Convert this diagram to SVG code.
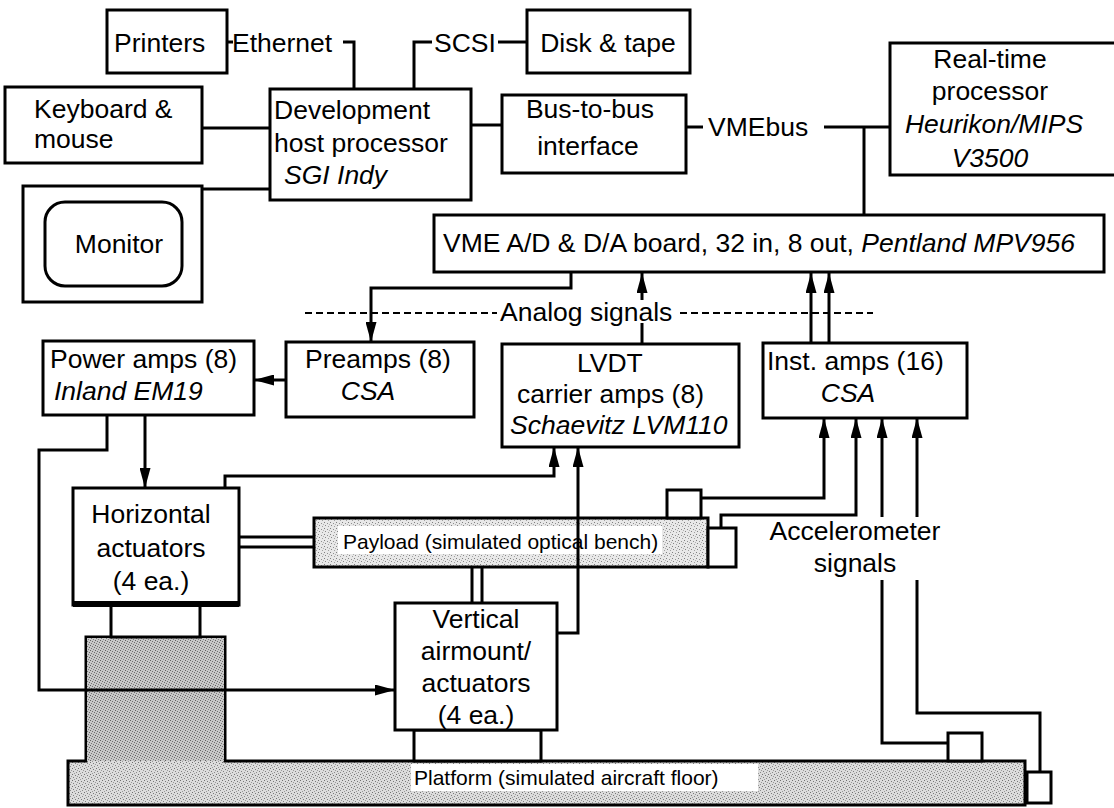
<svg xmlns="http://www.w3.org/2000/svg" width="1114" height="808" viewBox="0 0 1114 808">
<style>
.box{fill:#fff;stroke:#000;stroke-width:3}
.ln{fill:none;stroke:#000;stroke-width:3}
.ar{fill:none;stroke:#000;stroke-width:3;marker-end:url(#ah)}
.dash{fill:none;stroke:#000;stroke-width:2;stroke-dasharray:7 4}
.t{font-family:"Liberation Sans",Arial,Helvetica,sans-serif;font-size:26.5px;fill:#000}
.i{font-style:italic}
.m{text-anchor:middle}
.s{font-size:21px}
</style>
<defs>
<marker id="ah" markerUnits="userSpaceOnUse" markerWidth="20" markerHeight="11" viewBox="0 0 20 11" refX="20" refY="5.5" orient="auto">
<path d="M0,0 L20,5.5 L0,11 Z" fill="#000"/>
</marker>
<pattern id="p1" width="6" height="6" patternUnits="userSpaceOnUse">
<rect width="6" height="6" fill="#e8e8e8"/>
<rect x="0" y="0" width="1" height="1" fill="#808080"/>
<rect x="3" y="1" width="1" height="1" fill="#909090"/>
<rect x="1" y="3" width="1" height="1" fill="#858585"/>
<rect x="4" y="4" width="1" height="1" fill="#a0a0a0"/>
<rect x="5" y="2" width="1" height="1" fill="#b0b0b0"/>
</pattern>
<pattern id="p2" width="6" height="6" patternUnits="userSpaceOnUse">
<rect width="6" height="6" fill="#dcdcdc"/>
<rect x="0" y="0" width="1" height="1" fill="#707070"/>
<rect x="3" y="1" width="1" height="1" fill="#7a7a7a"/>
<rect x="1" y="3" width="1" height="1" fill="#808080"/>
<rect x="4" y="4" width="1" height="1" fill="#8a8a8a"/>
<rect x="5" y="2" width="1" height="1" fill="#999"/>
<rect x="2" y="5" width="1" height="1" fill="#999"/>
</pattern>
<pattern id="p3" width="5" height="5" patternUnits="userSpaceOnUse">
<rect width="5" height="5" fill="#c8c8c8"/>
<rect x="0" y="0" width="1" height="1" fill="#606060"/>
<rect x="2" y="1" width="1" height="1" fill="#707070"/>
<rect x="4" y="2" width="1" height="1" fill="#6a6a6a"/>
<rect x="1" y="3" width="1" height="1" fill="#777"/>
<rect x="3" y="4" width="1" height="1" fill="#808080"/>
</pattern>
</defs>
<rect width="1114" height="808" fill="#fff"/>

<g id="platform">
<path d="M68,805 V761 H86 V637 H225 V761 H1025 V805 Z" fill="url(#p2)" stroke="#000" stroke-width="3"/>
<rect x="87" y="638" width="137" height="123" fill="url(#p3)"/>
<rect x="411" y="764" width="347" height="27" fill="#fff"/>
<text class="t s" x="414" y="785">Platform (simulated aircraft floor)</text>
</g>
<g id="h-stand"><rect class="box" x="111" y="605" width="89" height="32"/></g>
<g id="v-stand"><rect class="box" x="414" y="730" width="127" height="31"/></g>
<g id="floor-accel-1"><rect class="box" x="948" y="733" width="34" height="28"/></g>
<g id="floor-accel-2"><rect class="box" x="1027" y="772" width="24" height="31"/></g>

<g id="printers"><rect class="box" x="107" y="10" width="120" height="63"/><text class="t" x="114" y="52">Printers</text></g>
<g id="disk"><rect class="box" x="527" y="10" width="163" height="63"/><text class="t m" x="608" y="52">Disk &amp; tape</text></g>
<g id="keyboard"><rect class="box" x="5" y="87" width="197" height="76"/><text class="t" x="34" y="118">Keyboard &amp;</text><text class="t" x="34" y="148">mouse</text></g>
<g id="monitor"><rect class="box" x="23" y="186" width="179" height="116"/><rect class="box" x="45" y="202" width="137" height="84" rx="20"/><text class="t m" x="119" y="253">Monitor</text></g>
<g id="host"><rect class="box" x="270" y="89" width="201" height="111"/><text class="t" x="274" y="119">Development</text><text class="t" x="274" y="152">host processor</text><text class="t i" x="284" y="184">SGI Indy</text></g>
<g id="bus"><rect class="box" x="502" y="95" width="184" height="78"/><text class="t m" x="590" y="118">Bus-to-bus</text><text class="t m" x="588" y="155">interface</text></g>
<g id="realtime"><rect class="box" x="890" y="43" width="240" height="132"/><text class="t m" x="990" y="68">Real-time</text><text class="t m" x="990" y="100">processor</text><text class="t m i" x="994" y="133">Heurikon/MIPS</text><text class="t m i" x="990" y="167">V3500</text></g>
<g id="vme"><rect class="box" x="434" y="215" width="670" height="57"/><text class="t" x="443" y="252">VME A/D &amp; D/A board, 32 in, 8 out, <tspan class="i">Pentland MPV956</tspan></text></g>
<g id="power"><rect class="box" x="43" y="341" width="211" height="74"/><text class="t" x="50" y="368">Power amps (8)</text><text class="t i" x="54" y="400">Inland EM19</text></g>
<g id="preamps"><rect class="box" x="286" y="342" width="188" height="75"/><text class="t" x="305" y="368">Preamps (8)</text><text class="t m i" x="368" y="400">CSA</text></g>
<g id="lvdt"><rect class="box" x="502" y="344" width="237" height="103"/><text class="t" x="577" y="372">LVDT</text><text class="t" x="517" y="403">carrier amps (8)</text><text class="t i" x="510" y="434">Schaevitz LVM110</text></g>
<g id="inst"><rect class="box" x="763" y="343" width="204" height="75"/><text class="t" x="767" y="370">Inst. amps (16)</text><text class="t m i" x="848" y="402">CSA</text></g>
<g id="horizontal"><rect class="box" x="73" y="488" width="166" height="117"/><path d="M73,604 H239" stroke="#000" stroke-width="6"/><text class="t m" x="151" y="523">Horizontal</text><text class="t m" x="151" y="557">actuators</text><text class="t m" x="151" y="590">(4 ea.)</text></g>
<g id="payload"><rect x="314" y="518" width="394" height="49" fill="url(#p1)" stroke="#000" stroke-width="3"/><rect x="338" y="526" width="324" height="28" fill="#fff"/><text class="t s" x="343" y="549">Payload (simulated optical bench)</text></g>
<g id="payload-accel-1"><rect class="box" x="667" y="490" width="34" height="28"/></g>
<g id="payload-accel-2"><rect class="box" x="708" y="528" width="28" height="39"/></g>
<g id="vertical"><rect class="box" x="395" y="603" width="162" height="127"/><text class="t m" x="476" y="628">Vertical</text><text class="t m" x="476" y="660">airmount/</text><text class="t m" x="476" y="692">actuators</text><text class="t m" x="476" y="724">(4 ea.)</text></g>

<g id="labels">
<text class="t" x="232" y="52">Ethernet</text>
<text class="t" x="434" y="52">SCSI</text>
<text class="t" x="708" y="136">VMEbus</text>
<text class="t" x="500" y="321">Analog signals</text>
<text class="t m" x="855" y="540">Accelerometer</text>
<text class="t m" x="855" y="572">signals</text>
</g>

<g id="connectors">
<path class="ln" d="M227,42 H233"/>
<path class="ln" d="M343,42 H354 V89"/>
<path class="ln" d="M414,89 V42 H432"/>
<path class="ln" d="M498,42 H527"/>
<path class="ln" d="M202,128 H270"/>
<path class="ln" d="M202,189 H270"/>
<path class="ln" d="M471,125 H502"/>
<path class="ln" d="M686,127 H703"/>
<path class="ln" d="M824,127 H890"/>
<path class="ln" d="M864,127 V215"/>
<path class="dash" d="M305,313 H497"/>
<path class="dash" d="M680,313 H873"/>
<path class="ar" d="M571,272 V288 H371 V342"/>
<path class="ar" d="M642,300 V273"/>
<path class="ln" d="M642,323 V344"/>
<path class="ar" d="M811,343 V273"/>
<path class="ar" d="M829,343 V273"/>
<path class="ar" d="M286,380 H254"/>
<path class="ar" d="M145,415 V488"/>
<path class="ar" d="M107,415 V450 H39 V690 H395"/>
<path class="ar" d="M225,488 V476 H554 V447"/>
<path class="ar" d="M557,633 H578 V447"/>
<path class="ar" d="M701,498 H824 V418"/>
<path class="ar" d="M721,528 V515 H856 V418"/>
<path class="ln" d="M948,743 H882 V580"/>
<path class="ar" d="M882,517 V418"/>
<path class="ln" d="M1040,772 V713 H917 V580"/>
<path class="ar" d="M917,517 V418"/>
<path class="ln" d="M239,537 H314 M239,547 H314"/>
<path class="ln" d="M472,567 V603 M482,567 V603"/>
</g>
</svg>
